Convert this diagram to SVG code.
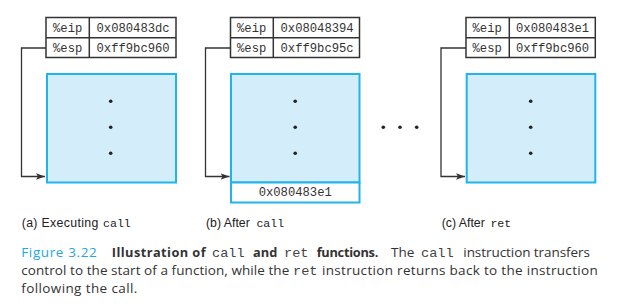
<svg xmlns="http://www.w3.org/2000/svg" width="625" height="308" viewBox="0 0 625 308">
<defs>
<marker id="arr" markerWidth="10" markerHeight="8" refX="9" refY="4" orient="auto" markerUnits="userSpaceOnUse">
<path d="M0,0.8 L9,4 L0,7.2 L2,4 Z" fill="#333"/>
</marker>
</defs>
<style>
.reg{fill:#fff;stroke:#333;stroke-width:1.5}
.mem{fill:#d3edfb;stroke:#1fb4ea;stroke-width:2}
.cell{fill:#fff;stroke:#1fb4ea;stroke-width:2}
.mono{font-family:"Liberation Mono","DejaVu Sans Mono",monospace;font-size:12.2px;fill:#333}
.sub{font-family:"Liberation Sans",Arial,sans-serif;font-size:12.3px;fill:#222}
.submono{font-family:"Liberation Mono",monospace;font-size:11.6px;fill:#222}
.cap{font-family:"Open Sans","Noto Sans",sans-serif;font-size:13.5px;fill:#333}
.b{font-weight:bold;font-size:12.8px}
.capmono{font-family:"Liberation Mono",monospace;font-size:13.6px;fill:#444}
.conn{fill:none;stroke:#333;stroke-width:1.3}
.dot{fill:#222}
</style>

<g id="connectors">
<path class="conn" d="M46,48 H21.5 V176.5 H45" marker-end="url(#arr)"/>
<path class="conn" d="M230.5,48 H205.5 V176.5 H229.5" marker-end="url(#arr)"/>
<path class="conn" d="M466,48 H441 V176.5 H465" marker-end="url(#arr)"/>
</g>

<g id="regs-a">
<rect class="reg" x="46" y="17.5" width="130" height="40"/>
<line class="reg" x1="46" y1="37.7" x2="176" y2="37.7"/>
<line class="reg" x1="89.3" y1="17.5" x2="89.3" y2="57.5"/>
<text class="mono" x="53" y="31.5">%eip</text>
<text class="mono" x="96.5" y="31.5">0x080483dc</text>
<text class="mono" x="53" y="52">%esp</text>
<text class="mono" x="96.5" y="52">0xff9bc960</text>
</g>
<g id="stack-a">
<rect class="mem" x="47" y="74" width="129" height="108.5"/>
<circle class="dot" cx="110.7" cy="101.3" r="1.8"/>
<circle class="dot" cx="110.7" cy="127.3" r="1.8"/>
<circle class="dot" cx="110.7" cy="153.3" r="1.8"/>
</g>

<g id="regs-b">
<rect class="reg" x="230.5" y="17.5" width="129" height="40"/>
<line class="reg" x1="230.5" y1="37.7" x2="359.5" y2="37.7"/>
<line class="reg" x1="273.3" y1="17.5" x2="273.3" y2="57.5"/>
<text class="mono" x="237" y="31.5">%eip</text>
<text class="mono" x="280.5" y="31.5">0x08048394</text>
<text class="mono" x="237" y="52">%esp</text>
<text class="mono" x="280.5" y="52">0xff9bc95c</text>
</g>
<g id="stack-b">
<rect class="mem" x="231" y="74" width="128.5" height="108.5"/>
<rect class="cell" x="231" y="182.5" width="128.5" height="20"/>
<circle class="dot" cx="295.2" cy="101.3" r="1.8"/>
<circle class="dot" cx="295.2" cy="127.3" r="1.8"/>
<circle class="dot" cx="295.2" cy="153.3" r="1.8"/>
<text class="mono" x="295.2" y="196" text-anchor="middle">0x080483e1</text>
</g>

<g id="ellipsis">
<circle class="dot" cx="383.3" cy="127.3" r="1.8"/>
<circle class="dot" cx="400" cy="127.3" r="1.8"/>
<circle class="dot" cx="416.7" cy="127.3" r="1.8"/>
</g>

<g id="regs-c">
<rect class="reg" x="466" y="17.5" width="129.3" height="40"/>
<line class="reg" x1="466" y1="37.7" x2="595.3" y2="37.7"/>
<line class="reg" x1="509.3" y1="17.5" x2="509.3" y2="57.5"/>
<text class="mono" x="472.5" y="31.5">%eip</text>
<text class="mono" x="516" y="31.5">0x080483e1</text>
<text class="mono" x="472.5" y="52">%esp</text>
<text class="mono" x="516" y="52">0xff9bc960</text>
</g>
<g id="stack-c">
<rect class="mem" x="466.7" y="74" width="128.6" height="108.5"/>
<circle class="dot" cx="530.7" cy="101.3" r="1.8"/>
<circle class="dot" cx="530.7" cy="127.3" r="1.8"/>
<circle class="dot" cx="530.7" cy="153.3" r="1.8"/>
</g>

<g id="subcaptions">
<text class="sub" x="21.7" y="226.5" textLength="76.6">(a) Executing</text>
<text class="submono" x="103" y="226.5">call</text>
<text class="sub" x="206" y="226.5">(b) After</text>
<text class="submono" x="256.4" y="226.5">call</text>
<text class="sub" x="441.7" y="226.5">(c) After</text>
<text class="submono" x="490.4" y="226.5">ret</text>
</g>

<g id="caption">
<text class="cap" x="21.3" y="256.5" style="fill:#1ea7e0" textLength="75.4">Figure 3.22</text>
<text class="cap b" x="111.7" y="256.5" textLength="94">Illustration of</text>
<text class="capmono" x="212" y="256.5">call</text>
<text class="cap b" x="253" y="256.5">and</text>
<text class="capmono" x="284" y="256.5">ret</text>
<text class="cap b" x="316.7" y="256.5" textLength="61.6">functions.</text>
<text class="cap" x="391" y="256.5">The</text>
<text class="capmono" x="421" y="256.5">call</text>
<text class="cap" x="463.3" y="256.5" textLength="126.7">instruction transfers</text>
<text class="cap" x="21.3" y="275" textLength="268">control to the start of a function, while the</text>
<text class="capmono" x="293" y="275">ret</text>
<text class="cap" x="322" y="275" textLength="275.7">instruction returns back to the instruction</text>
<text class="cap" x="21.3" y="292.5" textLength="116">following the call.</text>
</g>
</svg>
